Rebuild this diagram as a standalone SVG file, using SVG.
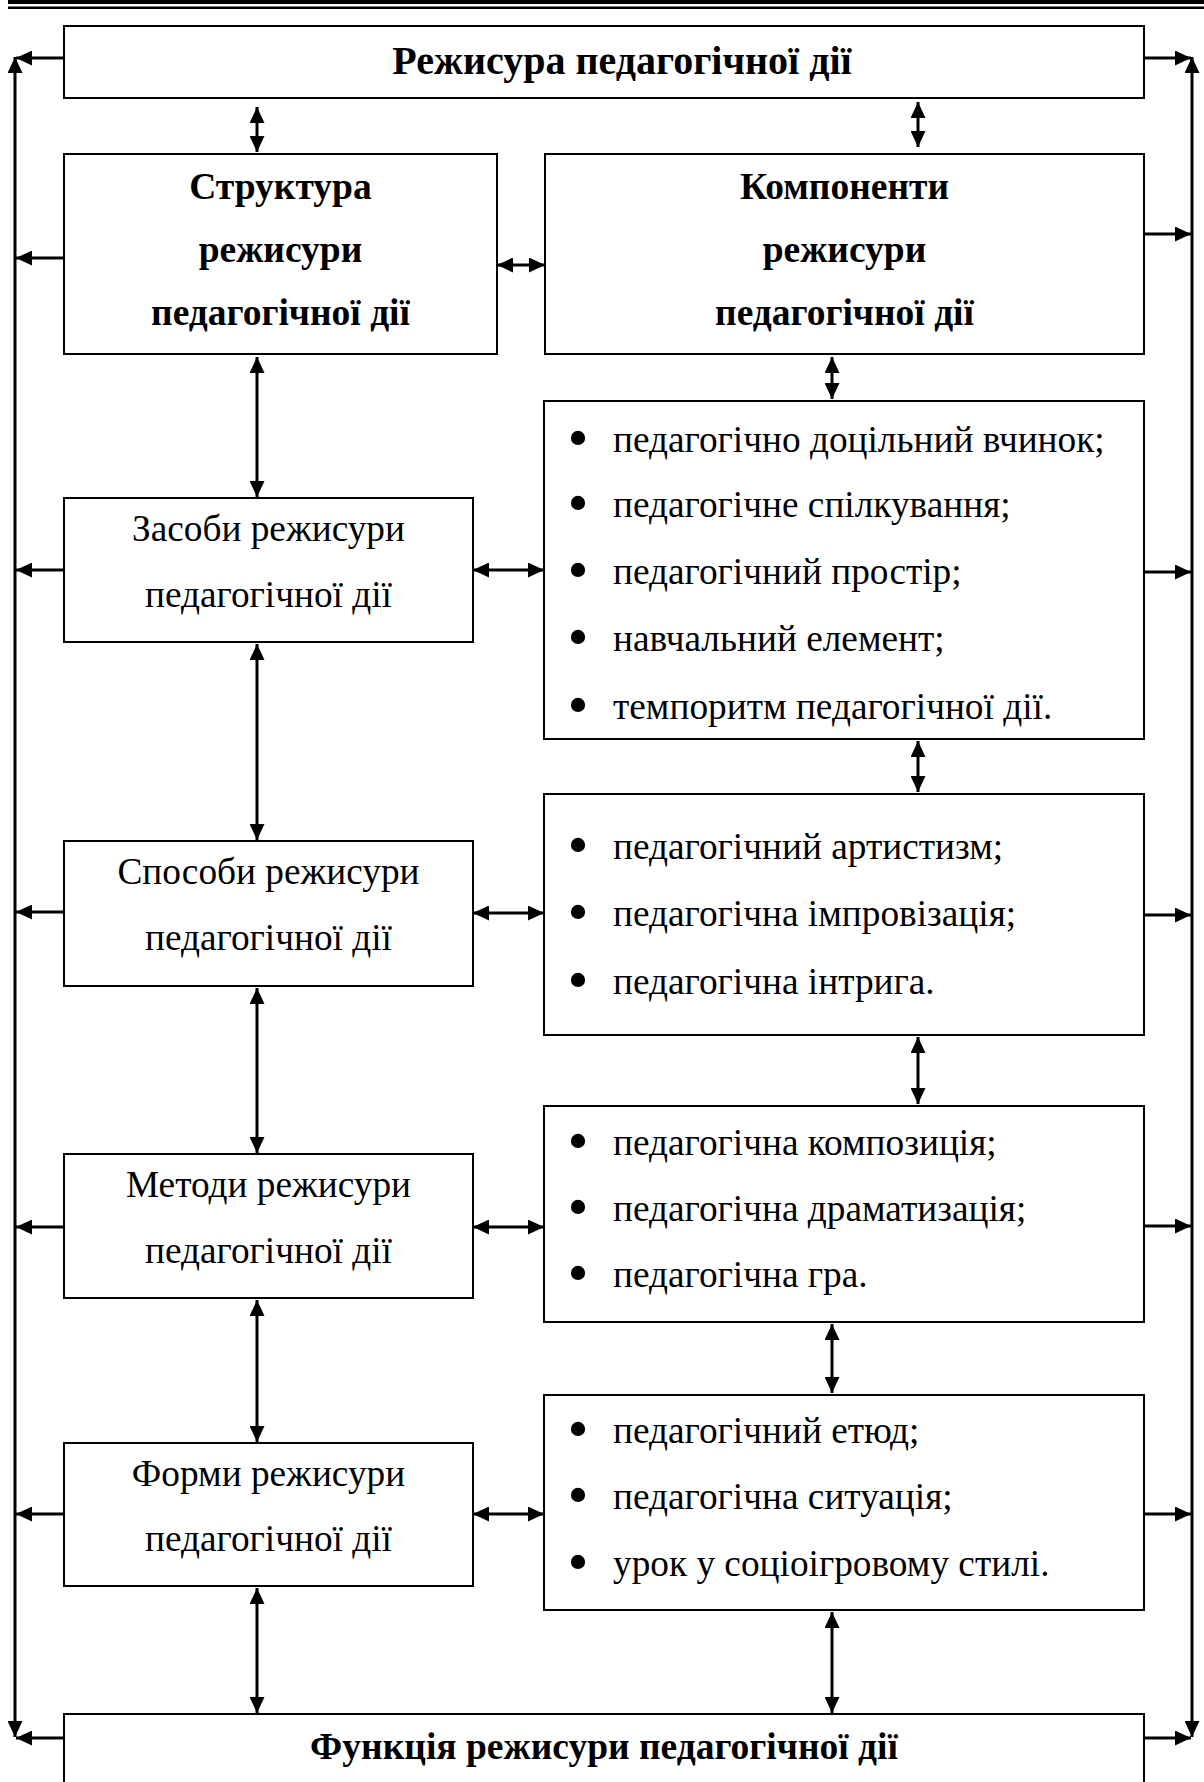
<svg xmlns="http://www.w3.org/2000/svg" width="1204" height="1782" viewBox="0 0 1204 1782">
<style>
.box{fill:#fff;stroke:#000;stroke-width:2}
.t{font-family:"Liberation Serif","Times New Roman",serif;font-size:37.3px;fill:#000}
.b{font-family:"Liberation Serif","Times New Roman",serif;font-size:37.5px;font-weight:bold;fill:#000}
.bt{font-size:40px}
.bu{font-family:"Liberation Serif","Times New Roman",serif;font-size:60px;fill:#000;text-anchor:middle}
.c{text-anchor:middle}
.ln{stroke:#000;stroke-width:3;fill:none}
.da{marker-start:url(#ah);marker-end:url(#ah)}
.sa{marker-end:url(#ah)}
</style>
<defs>
<marker id="ah" viewBox="0 0 16 15" refX="16" refY="7.5" markerWidth="16" markerHeight="15" markerUnits="userSpaceOnUse" orient="auto-start-reverse">
<path d="M0,0 L16,7.5 L0,15 z" fill="#000"/>
</marker>
</defs>
<rect x="8" y="0" width="1196" height="4" fill="#000"/>
<rect x="8" y="6.5" width="1196" height="2.5" fill="#000"/>

<g id="connectors">
<line class="ln da" x1="257" y1="107" x2="257" y2="152"/>
<line class="ln da" x1="918" y1="102" x2="918" y2="147"/>
<line class="ln da" x1="497" y1="265" x2="545" y2="265"/>
<line class="ln da" x1="257" y1="357" x2="257" y2="497"/>
<line class="ln da" x1="832" y1="357" x2="832" y2="399"/>
<line class="ln da" x1="473" y1="570" x2="544" y2="570"/>
<line class="ln da" x1="918" y1="741" x2="918" y2="792"/>
<line class="ln da" x1="257" y1="644" x2="257" y2="840"/>
<line class="ln da" x1="473" y1="913" x2="544" y2="913"/>
<line class="ln da" x1="918" y1="1037" x2="918" y2="1104"/>
<line class="ln da" x1="257" y1="988" x2="257" y2="1153"/>
<line class="ln da" x1="473" y1="1227" x2="544" y2="1227"/>
<line class="ln da" x1="832" y1="1324" x2="832" y2="1393"/>
<line class="ln da" x1="257" y1="1300" x2="257" y2="1442"/>
<line class="ln da" x1="473" y1="1514" x2="544" y2="1514"/>
<line class="ln da" x1="257" y1="1588" x2="257" y2="1713"/>
<line class="ln da" x1="832" y1="1612" x2="832" y2="1713"/>
<line class="ln da" x1="15" y1="57" x2="15" y2="1737"/>
<line class="ln da" x1="1192" y1="57" x2="1192" y2="1737"/>
<line class="ln sa" x1="64" y1="58" x2="16" y2="58"/>
<line class="ln sa" x1="64" y1="258" x2="16" y2="258"/>
<line class="ln sa" x1="64" y1="570" x2="16" y2="570"/>
<line class="ln sa" x1="64" y1="912" x2="16" y2="912"/>
<line class="ln sa" x1="64" y1="1227" x2="16" y2="1227"/>
<line class="ln sa" x1="64" y1="1514" x2="16" y2="1514"/>
<line class="ln sa" x1="64" y1="1738" x2="16" y2="1738"/>
<line class="ln sa" x1="1144" y1="58" x2="1191" y2="58"/>
<line class="ln sa" x1="1144" y1="234" x2="1191" y2="234"/>
<line class="ln sa" x1="1144" y1="572" x2="1191" y2="572"/>
<line class="ln sa" x1="1144" y1="915" x2="1191" y2="915"/>
<line class="ln sa" x1="1144" y1="1226" x2="1191" y2="1226"/>
<line class="ln sa" x1="1144" y1="1514" x2="1191" y2="1514"/>
<line class="ln sa" x1="1144" y1="1738" x2="1191" y2="1738"/>
</g>

<g id="top">
<rect class="box" x="64" y="26" width="1080" height="72"/>
<text class="b bt c" x="622" y="74">Режисура педагогічної дії</text>
</g>
<g id="structure">
<rect class="box" x="64" y="154" width="433" height="200"/>
<text class="b c" x="280.5" y="199">Структура</text>
<text class="b c" x="280.5" y="262">режисури</text>
<text class="b c" x="280.5" y="325">педагогічної дії</text>
</g>
<g id="components">
<rect class="box" x="545" y="154" width="599" height="200"/>
<text class="b c" x="844.5" y="199">Компоненти</text>
<text class="b c" x="844.5" y="262">режисури</text>
<text class="b c" x="844.5" y="325">педагогічної дії</text>
</g>
<g id="means">
<rect class="box" x="64" y="498" width="409" height="144"/>
<text class="t c" x="268.5" y="541">Засоби режисури</text>
<text class="t c" x="268.5" y="607">педагогічної дії</text>
</g>
<g id="list1">
<rect class="box" x="544" y="401" width="600" height="338"/>
<text class="bu" x="578" y="458">•</text><text class="t" x="613" y="452">педагогічно доцільний вчинок;</text>
<text class="bu" x="578" y="523">•</text><text class="t" x="613" y="517">педагогічне спілкування;</text>
<text class="bu" x="578" y="590">•</text><text class="t" x="613" y="584">педагогічний простір;</text>
<text class="bu" x="578" y="657">•</text><text class="t" x="613" y="651">навчальний елемент;</text>
<text class="bu" x="578" y="725">•</text><text class="t" x="613" y="719">темпоритм педагогічної дії.</text>
</g>
<g id="ways">
<rect class="box" x="64" y="841" width="409" height="145"/>
<text class="t c" x="268.5" y="884">Способи режисури</text>
<text class="t c" x="268.5" y="950">педагогічної дії</text>
</g>
<g id="list2">
<rect class="box" x="544" y="794" width="600" height="241"/>
<text class="bu" x="578" y="865">•</text><text class="t" x="613" y="859">педагогічний артистизм;</text>
<text class="bu" x="578" y="932">•</text><text class="t" x="613" y="926">педагогічна імпровізація;</text>
<text class="bu" x="578" y="1000">•</text><text class="t" x="613" y="994">педагогічна інтрига.</text>
</g>
<g id="methods">
<rect class="box" x="64" y="1154" width="409" height="144"/>
<text class="t c" x="268.5" y="1197">Методи режисури</text>
<text class="t c" x="268.5" y="1263">педагогічної дії</text>
</g>
<g id="list3">
<rect class="box" x="544" y="1106" width="600" height="216"/>
<text class="bu" x="578" y="1161">•</text><text class="t" x="613" y="1155">педагогічна композиція;</text>
<text class="bu" x="578" y="1227">•</text><text class="t" x="613" y="1221">педагогічна драматизація;</text>
<text class="bu" x="578" y="1293">•</text><text class="t" x="613" y="1287">педагогічна гра.</text>
</g>
<g id="forms">
<rect class="box" x="64" y="1443" width="409" height="143"/>
<text class="t c" x="268.5" y="1486">Форми режисури</text>
<text class="t c" x="268.5" y="1551">педагогічної дії</text>
</g>
<g id="list4">
<rect class="box" x="544" y="1395" width="600" height="215"/>
<text class="bu" x="578" y="1449">•</text><text class="t" x="613" y="1443">педагогічний етюд;</text>
<text class="bu" x="578" y="1515">•</text><text class="t" x="613" y="1509">педагогічна ситуація;</text>
<text class="bu" x="578" y="1582">•</text><text class="t" x="613" y="1576">урок у соціоігровому стилі.</text>
</g>
<g id="function">
<rect class="box" x="64" y="1714" width="1080" height="90"/>
<text class="b c" x="604" y="1759">Функція режисури педагогічної дії</text>
</g>
</svg>
